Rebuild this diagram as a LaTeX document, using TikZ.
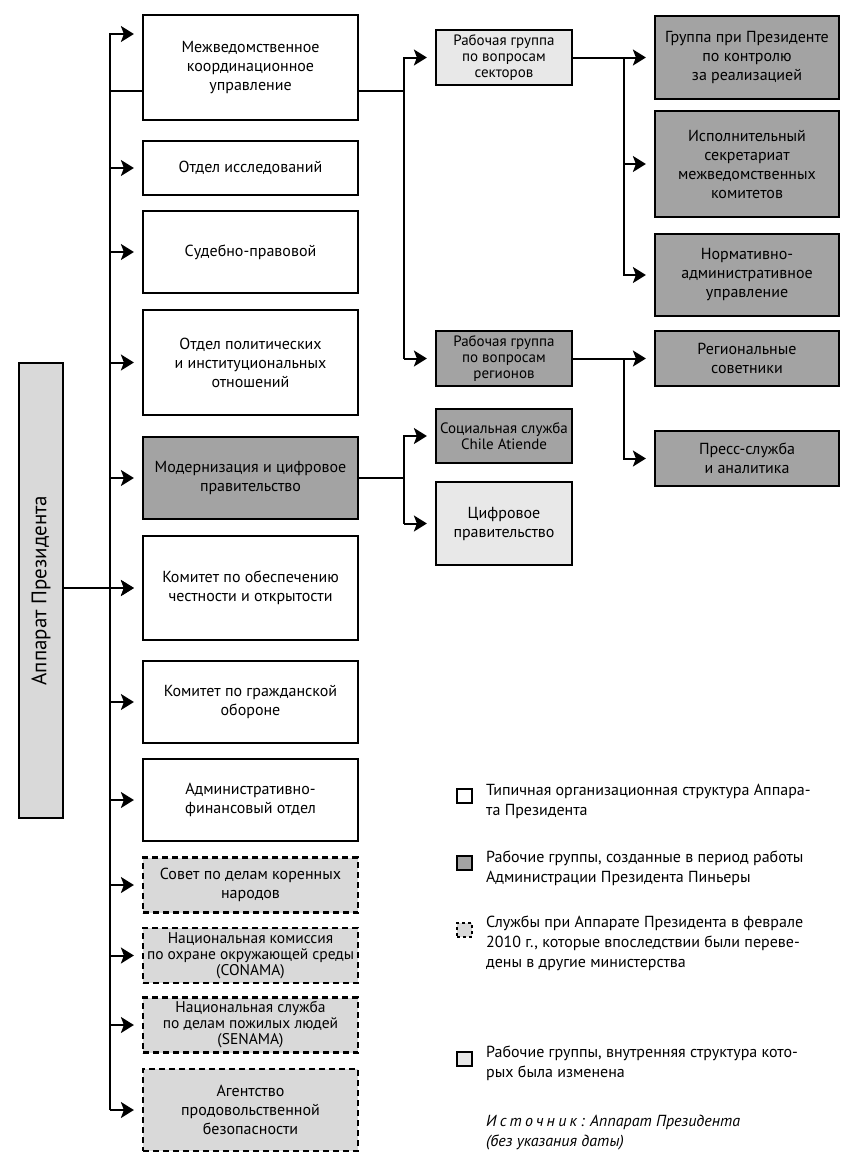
\documentclass[tikz,border=0pt]{standalone}
\usepackage{fontspec}
\setmainfont{PT Sans}
\usetikzlibrary{arrows.meta}
\definecolor{grisoscuro}{RGB}{163,163,163}
\definecolor{grisclaro}{RGB}{232,232,232}
\definecolor{grismedio}{RGB}{217,217,217}

\begin{document}
\begin{tikzpicture}[x=1pt, y=-1pt,
    base/.style={rectangle, draw=black, line width=2.2pt, align=center, inner sep=2pt, font=\fontsize{16}{19}\selectfont},
    unidad/.style={base, fill=white, minimum width=215pt},
    trasladada/.style={base, fill=grismedio, dash pattern=on 6pt off 4pt, minimum width=215pt},
    apretada/.style={font=\fontsize{15.5}{16}\selectfont},
    grupo/.style={base, minimum width=136pt, font=\fontsize{15}{16}\selectfont},
    asesor/.style={base, fill=grisoscuro, minimum width=184pt},
    muestra/.style={base, minimum width=15pt, minimum height=14pt, inner sep=0pt, line width=2pt},
    leyenda/.style={anchor=north west, align=left, inner sep=0pt, font=\fontsize{16}{20}\selectfont},
    line/.style={line width=2pt},
    arrow/.style={line width=2pt, -{Stealth[length=13pt,width=16pt,inset=3pt]}, shorten >=8pt}
]
    \path[fill=white] (0,0) rectangle (861,1167);
    \useasboundingbox (0,0) rectangle (861,1167);

    % Nodos
    \node (apparat) [base, fill=grismedio, minimum width=44pt, minimum height=455pt, font=\fontsize{21}{24}\selectfont] at (41,590.5) {\rotatebox{90}{Аппарат Президента}};

    \node (mezh) [unidad, minimum height=105pt] at (250.5,67.5) {Межведомственное\\координационное\\управление};
    \node (issl) [unidad, minimum height=54pt] at (250.5,168) {Отдел исследований};
    \node (sud) [unidad, minimum height=82pt] at (250.5,252) {Судебно-правовой};
    \node (polit) [unidad, minimum height=105pt] at (250.5,362.5) {Отдел политических\\и институциональных\\отношений};
    \node (modern) [unidad, fill=grisoscuro, minimum height=82pt] at (250.5,478) {Модернизация и цифровое\\правительство};
    \node (komchest) [unidad, minimum height=104pt] at (250.5,588) {Комитет по обеспечению\\честности и открытости};
    \node (komgo) [unidad, minimum height=82pt] at (250.5,702) {Комитет по гражданской\\обороне};
    \node (admfin) [unidad, minimum height=82pt] at (250.5,800) {Административно-\\финансовый отдел};
    \node (sovet) [trasladada, minimum height=55pt] at (250.5,885) {Совет по делам коренных\\народов};
    \node (conama) [trasladada, apretada, minimum height=55pt] at (250.5,955.5) {Национальная комиссия\\по охране окружающей среды\\(CONAMA)};
    \node (senama) [trasladada, apretada, minimum height=55pt] at (250.5,1025) {Национальная служба\\по делам пожилых людей\\(SENAMA)};
    \node (agent) [trasladada, minimum height=82pt] at (250.5,1110) {Агентство\\продовольственной\\безопасности};

    % Рабочие группы
    \node (sekt) [grupo, fill=grisclaro, minimum height=55pt] at (504,57.5) {Рабочая группа\\по вопросам\\секторов};
    \node (reg) [grupo, fill=grisoscuro, minimum height=55pt] at (504,358.5) {Рабочая группа\\по вопросам\\регионов};
    \node (chile) [grupo, fill=grisoscuro, minimum height=54pt] at (504,436) {Социальная служба\\Chile Atiende};
    \node (cifr) [grupo, fill=grisclaro, minimum height=83pt, font=\fontsize{16}{19}\selectfont] at (504,523.5) {Цифровое\\правительство};

    \node (grp) [asesor, minimum height=83pt] at (747,57.5) {Группа при Президенте\\по контролю\\за реализацией};
    \node (ispol) [asesor, minimum height=106pt] at (747,164) {Исполнительный\\секретариат\\межведомственных\\комитетов};
    \node (norm) [asesor, minimum height=82pt] at (747,275) {Нормативно-\\административное\\управление};
    \node (regsov) [asesor, minimum height=55pt] at (747,358.5) {Региональные\\советники};
    \node (press) [asesor, minimum height=55pt] at (747,458.5) {Пресс-служба\\и аналитика};

    % Ствол и ответвления
    \coordinate (tronco) at (110,34);
    \coordinate (rama1) at (404,0);
    \coordinate (rama2) at (624,0);
    \coordinate (mezhin) at ([yshift=-23.5pt]mezh.west);
    \coordinate (mezhout) at ([yshift=-23.5pt]mezh.east);

    \draw [arrow] (tronco |- agent) -- (tronco) -- (mezh.west |- tronco);
    \draw [line] (tronco |- mezhin) -- (mezhin);
    \foreach \n in {issl,sud,polit,modern,komchest,komgo,admfin,sovet,conama,senama,agent}
        \draw [arrow] (tronco |- \n) -- (\n.west);
    \draw [arrow] (apparat.east |- komchest) -- (komchest.west);

    \draw [line] (mezhout) -- (rama1 |- mezhout);
    \draw [arrow] (rama1 |- reg) -- (rama1 |- sekt) -- (sekt.west);
    \draw [arrow] (rama1 |- reg) -- (reg.west);

    \draw [line] (modern.east) -- (rama1 |- modern);
    \draw [arrow] (rama1 |- cifr) -- (rama1 |- chile) -- (chile.west);
    \draw [arrow] (rama1 |- cifr) -- (cifr.west);

    \draw [arrow] (sekt.east) -- (grp.west);
    \draw [arrow] (rama2 |- sekt) -- (rama2 |- norm) -- (norm.west);
    \draw [arrow] (rama2 |- ispol) -- (ispol.west);

    \draw [arrow] (reg.east) -- (regsov.west);
    \draw [arrow] (rama2 |- reg) -- (rama2 |- press) -- (press.west);

    % Легенда
    \node (ley1) [muestra, fill=white] at (464.5,795.5) {};
    \node (ley2) [muestra, fill=grisoscuro] at (464.5,862.5) {};
    \node (ley3) [muestra, fill=grismedio, dash pattern=on 3pt off 3pt] at (464.5,930) {};
    \node (ley4) [muestra, fill=grisclaro] at (464.5,1058.5) {};

    \node (ley1t) [leyenda] at (486,784) {Типичная организационная структура Аппара-\\та Президента};
    \node (ley2t) [leyenda] at (486,851) {Рабочие группы, созданные в период работы\\Администрации Президента Пиньеры};
    \node (ley3t) [leyenda] at (486,916) {Службы при Аппарате Президента в феврале\\2010 г., которые впоследствии были переве-\\дены в другие министерства};
    \node (ley4t) [leyenda] at (486,1046) {Рабочие группы, внутренняя структура кото-\\рых была изменена};
    \node (fuente) [leyenda, font=\fontsize{16}{20}\selectfont\itshape] at (486,1115) {{\addfontfeature{LetterSpace=20}Источник:} Аппарат Президента\\(без указания даты)};
\end{tikzpicture}
\end{document}
